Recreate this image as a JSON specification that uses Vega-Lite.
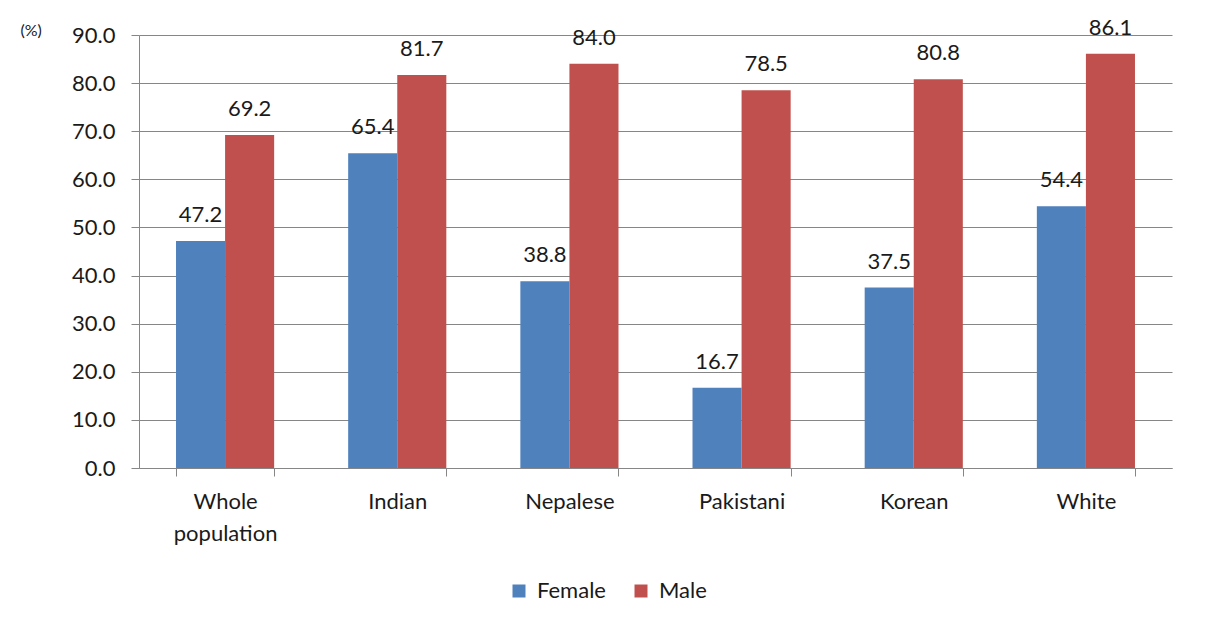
{
  "$schema": "https://vega.github.io/schema/vega-lite/v6.json",
  "autosize": "none",
  "width": 1033,
  "height": 433,
  "padding": {"left": 139, "top": 35, "right": 33, "bottom": 160},
  "background": "white",
  "config": {
    "font": "Lato",
    "view": {"stroke": null},
    "axis": {"labelFont": "Lato", "titleFont": "Lato"}
  },
  "data": {
    "values": [
      {"group": "Whole population", "sex": "Female", "value": 47.2},
      {"group": "Whole population", "sex": "Male", "value": 69.2},
      {"group": "Indian", "sex": "Female", "value": 65.4},
      {"group": "Indian", "sex": "Male", "value": 81.7},
      {"group": "Nepalese", "sex": "Female", "value": 38.8},
      {"group": "Nepalese", "sex": "Male", "value": 84.0},
      {"group": "Pakistani", "sex": "Female", "value": 16.7},
      {"group": "Pakistani", "sex": "Male", "value": 78.5},
      {"group": "Korean", "sex": "Female", "value": 37.5},
      {"group": "Korean", "sex": "Male", "value": 80.8},
      {"group": "White", "sex": "Female", "value": 54.4},
      {"group": "White", "sex": "Male", "value": 86.1}
    ]
  },
  "encoding": {
    "x": {
      "field": "group",
      "type": "nominal",
      "sort": ["Whole population", "Indian", "Nepalese", "Pakistani", "Korean", "White"],
      "scale": {"paddingInner": 0.43, "paddingOuter": 0.215},
      "axis": {
        "title": null,
        "labelAngle": 0,
        "labelFontSize": 22,
        "labelColor": "#1a1a1a",
        "labelPadding": 15,
        "labelLineHeight": 32,
        "labelBaseline": "top",
        "labelExpr": "datum.label == 'Whole population' ? ['Whole', 'population'] : datum.label",
        "tickBand": "extent",
        "tickSize": 8,
        "tickColor": "#868686",
        "domainColor": "#868686",
        "grid": false
      }
    },
    "xOffset": {"field": "sex", "type": "nominal", "sort": ["Female", "Male"]},
    "y": {
      "field": "value",
      "type": "quantitative",
      "scale": {"domain": [0, 90], "nice": false},
      "axis": {
        "values": [0, 10, 20, 30, 40, 50, 60, 70, 80, 90],
        "format": ".1f",
        "labelFontSize": 22,
        "labelColor": "#1a1a1a",
        "labelPadding": 16,
        "tickSize": 8,
        "tickColor": "#868686",
        "domainColor": "#868686",
        "gridColor": "#868686",
        "gridWidth": 1,
        "title": "(%)",
        "titleAngle": 0,
        "titleAlign": "left",
        "titleBaseline": "middle",
        "titleX": -119,
        "titleY": -5,
        "titleFontSize": 16,
        "titleFontWeight": "normal",
        "titleColor": "#1a1a1a"
      }
    }
  },
  "layer": [
    {
      "mark": {"type": "bar"},
      "encoding": {
        "color": {
          "field": "sex",
          "type": "nominal",
          "sort": ["Female", "Male"],
          "scale": {"domain": ["Female", "Male"], "range": ["#4F81BD", "#C0504D"]},
          "legend": {
            "title": null,
            "orient": "none",
            "direction": "horizontal",
            "legendX": 369,
            "legendY": 545,
            "symbolType": "square",
            "symbolSize": 169,
            "symbolStrokeWidth": 0,
            "labelFontSize": 22,
            "labelColor": "#1a1a1a",
            "labelOffset": 7,
            "columnPadding": 24
          }
        }
      }
    },
    {
      "mark": {"type": "text", "baseline": "bottom", "dy": -14, "fontSize": 22, "color": "#1a1a1a"},
      "encoding": {
        "text": {"field": "value", "type": "quantitative", "format": ".1f"}
      }
    }
  ]
}
